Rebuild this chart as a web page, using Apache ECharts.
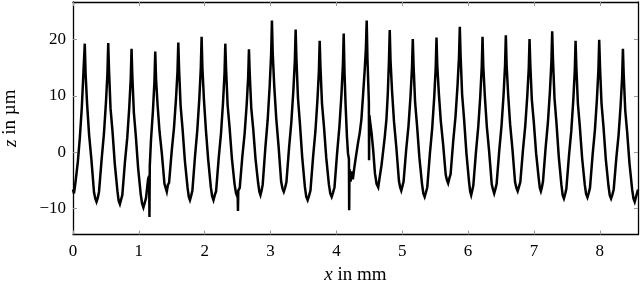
<!DOCTYPE html>
<html>
<head>
<meta charset="utf-8">
<script src="https://cdn.jsdelivr.net/npm/echarts@6/dist/echarts.min.js"></script>
<style>
html,body{margin:0;padding:0;background:#fff;}
#chart{width:640px;height:284px;}
</style>
</head>
<body>
<div id="chart"></div>
<script>
// measured surface profile: [x in mm, z in µm]
const profile = [
[0.000,-6.6],[0.015,-7.3],[0.039,-5.2],[0.074,-1.6],[0.104,2.6],[0.134,8.0],[0.159,14.3],[0.179,19.3],
[0.191,14.0],[0.214,8.6],[0.244,3.2],[0.279,-1.2],[0.319,-7.1],[0.338,-8.2],[0.357,-8.8],[0.376,-8.1],
[0.395,-7.0],[0.435,-1.2],[0.470,3.3],[0.500,8.8],[0.523,14.0],[0.535,19.4],
[0.547,14.6],[0.570,7.8],[0.600,3.7],[0.635,-2.1],[0.675,-6.9],[0.693,-8.6],[0.712,-9.2],[0.730,-8.4],[0.749,-7.6],[0.789,-1.7],[0.824,2.6],[0.854,7.9],[0.877,13.1],[0.889,18.4],
[0.901,13.6],[0.924,7.1],[0.954,2.9],[0.989,-2.8],[1.029,-7.5],[1.049,-9.1],[1.069,-9.8],[1.089,-9.0],[1.109,-8.1],[1.140,-4.8],[1.156,-4.2],[1.161,-11.5],[1.166,-2.4],[1.184,2.1],[1.214,7.4],[1.237,12.6],[1.249,17.9],
[1.261,13.1],[1.284,8.5],[1.314,3.7],[1.349,-0.2],[1.389,-5.6],[1.406,-6.3],[1.424,-7.0],[1.441,-5.8],[1.459,-5.4],[1.499,0.2],[1.534,4.4],[1.564,9.5],[1.587,14.4],[1.599,19.5],
[1.611,14.8],[1.634,8.3],[1.664,4.1],[1.699,-1.5],[1.739,-6.2],[1.758,-7.9],[1.776,-8.5],[1.795,-7.7],[1.813,-6.8],[1.853,-0.7],[1.888,4.0],[1.918,9.5],[1.941,15.0],[1.953,20.5],
[1.965,15.0],[1.988,9.5],[2.018,4.0],[2.053,-1.3],[2.093,-6.2],[2.113,-7.8],[2.133,-8.5],[2.153,-7.6],[2.173,-6.9],[2.213,-1.0],[2.248,3.4],[2.278,8.8],[2.301,14.0],[2.313,19.3],
[2.325,14.7],[2.348,8.4],[2.378,4.4],[2.413,-1.1],[2.453,-5.6],[2.475,-7.2],[2.493,-7.8],[2.500,-7.1],[2.505,-10.4],[2.510,-6.8],[2.532,-6.3],[2.572,-0.7],[2.607,3.4],[2.637,8.4],[2.660,13.3],[2.672,18.3],
[2.684,13.9],[2.707,7.9],[2.737,4.1],[2.772,-1.2],[2.812,-5.5],[2.830,-7.0],[2.847,-7.6],[2.864,-6.8],[2.881,-5.7],[2.921,0.8],[2.956,5.7],[2.986,11.6],[3.009,17.5],[3.021,23.4],
[3.033,17.6],[3.056,11.8],[3.086,6.1],[3.121,1.2],[3.161,-5.2],[3.181,-6.4],[3.201,-7.0],[3.221,-6.3],[3.241,-5.3],[3.281,0.8],[3.316,5.4],[3.346,10.9],[3.369,16.3],[3.381,21.8],
[3.393,16.6],[3.416,9.7],[3.446,5.1],[3.481,-0.9],[3.521,-6.1],[3.542,-7.9],[3.563,-8.5],[3.585,-7.7],[3.606,-6.8],[3.646,-0.8],[3.681,3.7],[3.711,9.1],[3.734,14.4],[3.746,19.8],
[3.758,15.1],[3.781,8.7],[3.811,4.6],[3.846,-1.0],[3.886,-5.7],[3.907,-7.3],[3.928,-7.9],[3.950,-7.1],[3.971,-6.2],[4.011,-0.1],[4.046,4.6],[4.076,10.1],[4.099,15.6],[4.111,21.1],
[4.123,14.2],[4.140,8.3],[4.160,2.8],[4.176,-0.2],[4.190,-1.2],[4.194,-10.3],[4.199,-3.0],[4.215,-5.2],[4.232,-3.4],[4.250,-4.8],[4.270,-2.9],[4.300,-0.5],[4.330,1.8],[4.355,3.5],[4.380,5.9],[4.405,10.2],[4.430,14.7],[4.448,18.5],[4.460,23.4],
[4.472,16.5],[4.484,12.2],[4.493,8.8],[4.496,-1.4],[4.500,6.6],[4.515,5.2],[4.535,3.3],[4.560,0.2],[4.585,-3.7],[4.610,-5.6],[4.635,-6.2],[4.660,-4.2],[4.685,-2.3],[4.710,0.2],[4.735,2.8],[4.760,5.9],[4.780,10.3],[4.798,16.2],[4.810,21.7],
[4.822,16.3],[4.845,10.9],[4.875,5.4],[4.910,0.9],[4.950,-5.1],[4.968,-6.2],[4.985,-6.8],[5.003,-6.0],[5.020,-5.2],[5.060,0.5],[5.095,4.7],[5.125,9.9],[5.148,15.0],[5.160,20.1],
[5.172,15.4],[5.195,8.9],[5.225,4.7],[5.260,-0.9],[5.300,-5.6],[5.320,-7.3],[5.340,-7.9],[5.360,-7.1],[5.380,-6.2],[5.420,-0.2],[5.455,4.3],[5.485,9.7],[5.508,15.0],[5.520,20.4],
[5.532,15.4],[5.555,10.6],[5.585,5.6],[5.620,1.5],[5.660,-4.0],[5.678,-4.9],[5.697,-5.5],[5.716,-4.6],[5.734,-3.9],[5.774,2.0],[5.809,6.4],[5.839,11.8],[5.862,17.0],[5.874,22.3],
[5.886,17.2],[5.909,10.3],[5.939,5.9],[5.974,-0.1],[6.014,-5.2],[6.031,-6.9],[6.047,-7.6],[6.063,-6.8],[6.079,-5.9],[6.119,0.0],[6.154,4.5],[6.184,9.8],[6.207,15.1],[6.219,20.5],
[6.231,15.2],[6.254,10.0],[6.284,4.6],[6.319,0.2],[6.359,-5.7],[6.378,-6.6],[6.396,-7.3],[6.415,-6.5],[6.433,-5.6],[6.473,0.3],[6.508,4.8],[6.538,10.1],[6.561,15.4],[6.573,20.8],
[6.585,15.5],[6.608,10.3],[6.638,5.0],[6.673,0.6],[6.713,-5.3],[6.733,-6.3],[6.753,-6.9],[6.773,-6.1],[6.793,-5.3],[6.833,0.4],[6.868,4.7],[6.898,9.9],[6.921,14.9],[6.933,20.1],
[6.945,15.5],[6.968,9.3],[6.998,5.3],[7.033,-0.2],[7.073,-4.7],[7.089,-6.3],[7.105,-6.9],[7.121,-6.2],[7.137,-5.2],[7.177,0.8],[7.212,5.3],[7.242,10.7],[7.265,16.1],[7.277,21.5],
[7.289,16.5],[7.312,9.6],[7.342,5.2],[7.377,-0.8],[7.417,-5.8],[7.436,-7.6],[7.455,-8.2],[7.474,-7.4],[7.492,-6.5],[7.532,-0.6],[7.567,3.8],[7.597,9.2],[7.620,14.5],[7.632,19.8],
[7.644,15.1],[7.667,8.7],[7.697,4.5],[7.732,-1.1],[7.772,-5.8],[7.792,-7.4],[7.812,-8.0],[7.832,-7.2],[7.851,-6.3],[7.891,-0.4],[7.926,4.0],[7.956,9.4],[7.979,14.7],[7.991,20.0],
[8.003,15.2],[8.026,8.7],[8.056,4.5],[8.091,-1.2],[8.131,-5.9],[8.151,-7.6],[8.171,-8.2],[8.191,-7.5],[8.211,-6.6],[8.251,-1.0],[8.286,3.2],[8.316,8.3],[8.339,13.3],[8.351,18.4],
[8.363,13.8],[8.386,7.5],[8.416,3.5],[8.451,-2.0],[8.491,-6.6],[8.511,-8.2],[8.530,-8.8],[8.555,-7.7],[8.580,-6.6]
];
const xTicks = [0, 1, 2, 3, 4, 5, 6, 7, 8];
const yTicks = [-10, 0, 10, 20];
const xRange = [0, 8.58];
const yRange = [-14.6, 26.7];

const FONT = 'Liberation Serif';
const fmtY = v => (v < 0 ? '\u2212' + Math.abs(v) : String(v));

function xAx(pos, labels) {
  return {
    type: 'value', position: pos, min: xRange[0], max: xRange[1],
    splitLine: {show: false},
    axisLine: {show: true, onZero: false, lineStyle: {color: '#000', width: 1.3}},
    axisTick: {show: true, inside: true, length: 4, customValues: xTicks, lineStyle: {color: '#999', width: 1}},
    axisLabel: {show: labels, customValues: xTicks, margin: 9, color: '#000', fontFamily: FONT, fontSize: 17},
    name: labels ? '{i|x} in mm' : '',
    nameLocation: 'middle', nameGap: 31,
    nameTextStyle: {color: '#000', fontFamily: FONT, fontSize: 19,
      rich: {i: {fontStyle: 'italic', fontFamily: FONT, fontSize: 19, color: '#000'}}}
  };
}
function yAx(pos, labels) {
  return {
    type: 'value', position: pos, min: yRange[0], max: yRange[1],
    splitLine: {show: false},
    axisLine: {show: true, onZero: false, lineStyle: {color: '#000', width: 1.3}},
    axisTick: {show: true, inside: true, length: 4, customValues: yTicks, lineStyle: {color: '#999', width: 1}},
    axisLabel: {show: labels, customValues: yTicks, margin: 7, color: '#000', fontFamily: FONT, fontSize: 17, formatter: fmtY},
    name: labels ? '{i|z} in \u00b5m' : '',
    nameLocation: 'middle', nameGap: 53, nameRotate: 90,
    nameTextStyle: {color: '#000', fontFamily: FONT, fontSize: 19,
      rich: {i: {fontStyle: 'italic', fontFamily: FONT, fontSize: 19, color: '#000'}}}
  };
}

const chart = echarts.init(document.getElementById('chart'), null, {renderer: 'canvas'});
chart.setOption({
  animation: false,
  backgroundColor: '#fff',
  grid: {left: 73, right: 2, top: 2, bottom: 49.5, containLabel: false, outerBoundsMode: 'none'},
  xAxis: [xAx('bottom', true), xAx('top', false)],
  yAxis: [yAx('left', true), yAx('right', false)],
  series: [{
    type: 'line', xAxisIndex: 0, yAxisIndex: 0,
    data: profile, showSymbol: false, symbol: 'none',
    lineStyle: {color: '#000', width: 2.5, join: 'miter', miterLimit: 5},
    clip: true
  }]
});
</script>
</body>
</html>
